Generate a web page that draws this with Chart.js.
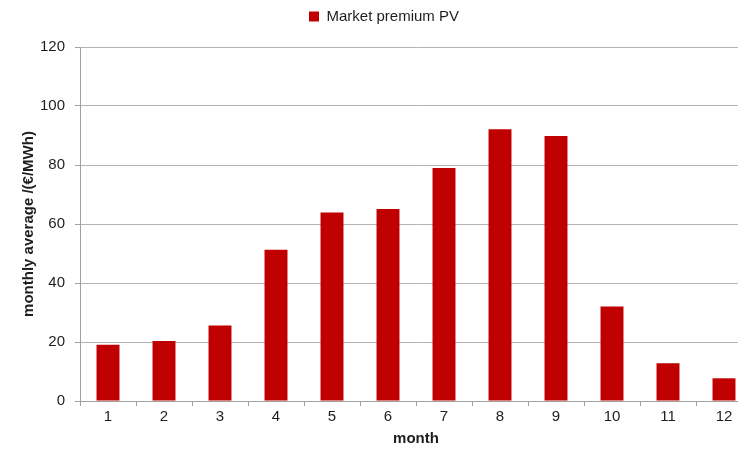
<!DOCTYPE html>
<html>
<head>
<meta charset="utf-8">
<script src="https://cdn.jsdelivr.net/npm/chart.js@4.4.1/dist/chart.umd.min.js"></script>
<style>
  html, body { margin: 0; padding: 0; background: #fff; overflow: hidden; }
  #wrap { position: relative; width: 760px; height: 456px; }
</style>
</head>
<body>
<div id="wrap"><canvas id="c"></canvas></div>
<script>
const months = ['1','2','3','4','5','6','7','8','9','10','11','12'];
const marketPremiumPV = [19.1, 20.3, 25.6, 51.3, 63.9, 65.1, 79.0, 92.1, 89.8, 32.0, 12.8, 7.7];
const seriesLabel = 'Market premium PV';
const yTitle = 'monthly average /(€/MWh)';
const xTitle = 'month';

const textColor = '#1e1e1e';
const gridColor = '#b4b4b4';
const axisColor = '#a0a0a0';

const layoutTweaks = {
  id: 'layoutTweaks',
  beforeLayout(chart) {
    const lg = chart.legend;
    if (lg && !lg._patched) {
      const f = lg.fit;
      lg.fit = function () { f.call(this); this.height = 47; };
      lg._patched = true;
    }
  },
  afterLayout(chart) {
    if (chart.legend) chart.legend.left += 16;
  }
};

new Chart(document.getElementById('c'), {
  type: 'bar',
  data: {
    labels: months,
    datasets: [{
      label: seriesLabel,
      data: marketPremiumPV,
      backgroundColor: '#c00000',
      borderWidth: 0,
      categoryPercentage: 1.0,
      barPercentage: 0.41
    }]
  },
  options: {
    responsive: true,
    maintainAspectRatio: false,
    animation: false,
    layout: { padding: { left: 0, right: 8, top: 0, bottom: 0 } },
    plugins: {
      legend: {
        display: true,
        position: 'top',
        labels: {
          boxWidth: 10,
          boxHeight: 10,
          padding: 9,
          color: textColor,
          font: { family: 'Liberation Sans, Arial, sans-serif', size: 15 }
        }
      },
      tooltip: { enabled: false }
    },
    scales: {
      x: {
        offset: true,
        afterFit(scale) { scale.height = 55; },
        grid: {
          display: true,
          offset: true,
          drawOnChartArea: false,
          drawTicks: true,
          tickLength: 5,
          color: axisColor
        },
        border: { display: true, color: axisColor },
        ticks: {
          color: textColor,
          padding: 2,
          font: { family: 'Liberation Sans, Arial, sans-serif', size: 15 }
        },
        title: {
          display: true,
          text: xTitle,
          color: textColor,
          padding: { top: 2, bottom: 8 },
          font: { family: 'Liberation Sans, Arial, sans-serif', size: 15, weight: 'bold' }
        }
      },
      y: {
        min: 0,
        max: 120,
        afterFit(scale) { scale.width = 80; },
        grid: {
          display: true,
          color: gridColor,
          drawTicks: true,
          tickLength: 5,
          tickColor: axisColor
        },
        border: { display: true, color: axisColor },
        ticks: {
          stepSize: 20,
          color: textColor,
          padding: 10,
          font: { family: 'Liberation Sans, Arial, sans-serif', size: 15 }
        },
        title: {
          display: true,
          text: yTitle,
          color: textColor,
          padding: { top: 20, bottom: 0 },
          font: { family: 'Liberation Sans, Arial, sans-serif', size: 15, weight: 'bold' }
        }
      }
    }
  },
  plugins: [layoutTweaks]
});
</script>
</body>
</html>
